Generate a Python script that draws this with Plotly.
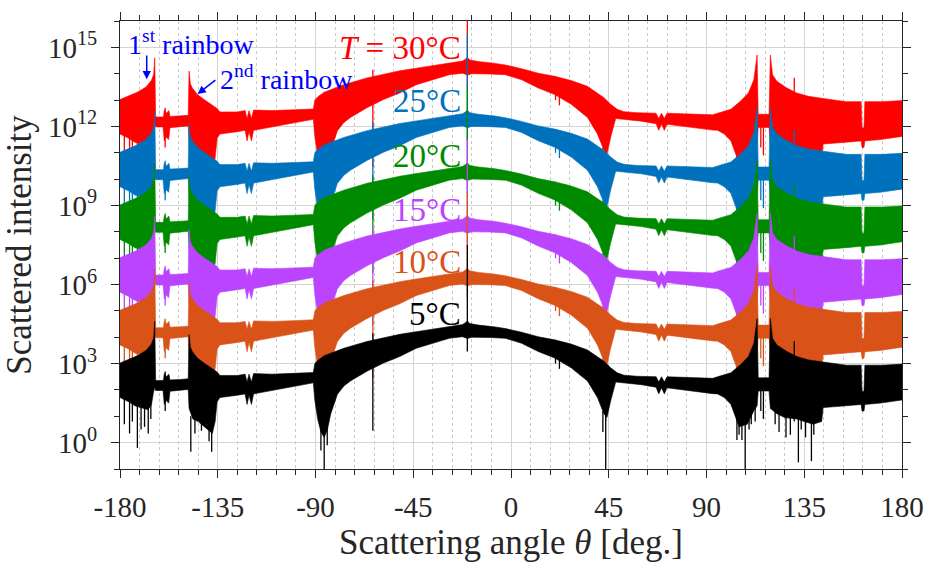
import plotly.graph_objects as go

# ---------------------------------------------------------------------------
# Scattered intensity envelopes of the 5 °C curve (log10 units).
# Every other temperature is drawn shifted upward by two decades per step.
# ---------------------------------------------------------------------------
upper_deg = [-180, -176, -172, -168, -165.5, -164.5, -164.0, -163.6, -160.0, -159.6,
             -158.6, -157.5, -157.0, -152, -148.6, -148.2, -147.6, -146.7, -144.4, -141.3,
             -138.5, -136.8, -135.3, -134.0, -126, -122.4, -121.5, -120.6, -119.5, -118.5,
             -110, -100, -91.0, -90.3, -89, -86, -83, -77, -66.3, -58.7,
             -51.2, -43.6, -36, -28.4, -22.3, -21, -20.1, -19, -15, -8,
             -2.6, 4.9, 12.5, 20.1, 27.7, 35.2, 39.8, 42.8, 45.9, 48.9,
             52, 58, 66.8, 68.0, 69.3, 70.6, 71.8, 80, 92.9, 95.1,
             98, 101.2, 105.7, 109.3, 111.8, 112.8, 113.3, 113.8, 118.8, 119.4,
             120.4, 122.4, 127, 131.5, 137, 143.7, 154.3, 161.2, 161.6, 162.5,
             162.9, 170.9, 180]
upper_log = [3.02, 3.15, 3.30, 3.50, 3.75, 3.98, 4.60, 2.36, 2.36, 2.62,
             2.50, 2.60, 2.38, 2.40, 2.42, 4.10, 3.62, 3.46, 3.21, 3.02,
             2.85, 2.77, 2.68, 2.55, 2.55, 2.60, 2.30, 2.60, 2.30, 2.62,
             2.60, 2.63, 2.66, 3.00, 3.12, 3.30, 3.40, 3.58, 3.84, 3.99,
             4.11, 4.21, 4.31, 4.40, 4.48, 4.55, 4.62, 4.52, 4.46, 4.40,
             4.33, 4.19, 4.02, 3.90, 3.74, 3.52, 3.27, 3.09, 2.84, 2.65,
             2.56, 2.52, 2.50, 2.30, 2.50, 2.30, 2.50, 2.47, 2.44, 2.50,
             2.56, 2.65, 2.96, 3.27, 3.77, 4.30, 4.71, 2.46, 2.46, 4.71,
             3.96, 3.71, 3.46, 3.27, 3.14, 3.06, 2.94, 2.94, 1.95, 1.95,
             2.94, 2.94, 2.98]

lower_deg = [-180, -176, -173.2, -169, -167.1, -165.5, -164.6, -164.0, -163.6, -160.2,
             -159.6, -158.8, -157.6, -157.0, -152, -148.6, -148.2, -146.5, -144, -141,
             -139, -137.5, -136.2, -135.3, -134, -126, -122.4, -121.5, -120.6, -119.5,
             -118.5, -110, -100, -91, -90.3, -89, -87.5, -86, -84.5, -83,
             -79.9, -76.9, -73.9, -66.3, -58.7, -51.2, -43.6, -36, -28.4, -22.3,
             -20.1, -18, -10, -2.6, 4.9, 12.5, 20.1, 27.7, 35.2, 39.8,
             42.8, 44.2, 45.9, 48.2, 50, 60, 66.8, 68.0, 69.3, 70.6,
             71.8, 80, 92.9, 95.1, 98.2, 101.2, 103.5, 105, 108.8, 111.8,
             113.3, 113.8, 118.8, 119.4, 122.4, 126, 131.5, 135, 139.1, 143.0,
             143.7, 154.3, 161.2, 161.6, 162.5, 162.9, 170, 180]
lower_log = [1.71, 1.55, 1.40, 1.30, 1.25, 1.45, 1.90, 2.10, 1.98, 1.98,
             1.45, 1.60, 1.50, 1.95, 2.00, 2.02, 1.30, 0.90, 0.80, 0.60,
             0.45, 0.35, 0.80, 1.55, 1.71, 1.80, 1.85, 1.45, 1.80, 1.45,
             1.85, 2.00, 2.14, 2.27, 1.60, 0.90, 0.40, 0.20, 0.50, 1.09,
             1.84, 2.15, 2.34, 2.71, 3.02, 3.27, 3.58, 3.77, 3.96, 4.02,
             3.95, 4.00, 3.99, 3.96, 3.77, 3.46, 3.21, 2.84, 2.34, 1.71,
             1.09, 0.96, 1.59, 2.30, 2.30, 2.20, 2.10, 1.85, 2.08, 1.85,
             2.08, 1.98, 1.86, 1.85, 1.71, 1.46, 0.96, 0.60, 0.70, 1.21,
             1.40, 1.96, 1.96, 1.30, 1.10, 0.95, 0.90, 0.80, 0.70, 0.80,
             1.33, 1.40, 1.45, 1.20, 1.20, 1.45, 1.50, 1.62]

# Narrow interference spikes: angle, bottom and top (log10 units)
spike_deg = [-178.0, -175.6, -174.3, -172.0, -170.3, -168.7, -167.0, -165.8, -159.2,
             -147.4, -145.5, -142.5, -139.0, -137.8, -87.5, -86.0, -84.6, -63.6,
             -20.1, 20.5, 22.3, 24.8, 42.3, 43.6, 104.0, 105.0, 106.3, 107.8,
             109.6, 110.6, 112.4, 115.0, 116.2, 121.6, 123.4, 126.6, 128.6, 130.4,
             132.3, 133.6, 135.6, 138.3, 139.4, 141.4]
spike_low = [0.70, 0.35, 0.80, -0.20, 0.50, 0.60, 0.35, 0.90, 1.20,
             -0.35, 0.35, 0.45, 0.05, -0.35, -0.30, -1.20, -0.10, 0.45,
             3.46, 3.00, 2.80, 3.00, 0.40, -1.20, 0.10, 0.30, 0.10, -1.20,
             0.50, 0.70, 0.80, 1.20, 0.90, 0.70, 0.40, 0.20, 0.30, 0.80,
             -0.75, 0.50, 0.20, -0.70, 0.30, 0.90]
spike_high = [1.80, 1.60, 1.60, 1.50, 1.40, 1.40, 1.30, 1.50, 2.70,
              1.00, 1.00, 0.90, 0.60, 0.50, 0.60, 0.50, 0.80, 4.15,
              7.50, 3.90, 3.80, 3.80, 1.20, 1.10, 1.00, 1.00, 0.80, 0.80,
              1.00, 1.30, 1.40, 2.00, 2.00, 1.20, 1.20, 1.00, 1.00, 3.85,
              1.00, 1.00, 0.90, 0.90, 0.80, 1.00]

# Temperatures, their vertical shift (decades) and colours; drawn top curve first
temps = ["30", "25", "20", "15", "10", "5"]
shift_dec = [10, 8, 6, 4, 2, 0]
colors = ["#FF0000", "#0072BD", "#008A00", "#BB44FF", "#D95319", "#000000"]
label_y_log = [14.98, 12.95, 10.88, 8.82, 6.87, 4.89]

# Axis ticks
x_ticks = [-180, -135, -90, -45, 0, 45, 90, 135, 180]
x_ticktext = ["-180", "-135", "-90", "-45", "0", "45", "90", "135", "180"]
y_tick_exp = [0, 3, 6, 9, 12, 15]

FONT = "Liberation Serif, Times New Roman, serif"
AXIS_COLOR = "#262626"

fig = go.Figure()

for t, off, col in zip(temps, shift_dec, colors):
    xs = list(upper_deg) + list(reversed(lower_deg))
    ys = [10 ** (v + off) for v in upper_log] + [10 ** (v + off) for v in reversed(lower_log)]
    fig.add_trace(go.Scatter(
        x=xs, y=ys, mode="lines", fill="toself", fillcolor=col,
        line=dict(color=col, width=0.6), hoverinfo="skip", showlegend=False,
        name=f"{t} °C"))
    sx, sy = [], []
    for a, lo, hi in zip(spike_deg, spike_low, spike_high):
        sx += [a, a, None]
        sy += [10 ** (lo + off), 10 ** (hi + off), None]
    fig.add_trace(go.Scatter(
        x=sx, y=sy, mode="lines", line=dict(color=col, width=1.3),
        hoverinfo="skip", showlegend=False))

annotations = []
for i, (t, col, ly) in enumerate(zip(temps, colors, label_y_log)):
    txt = f"<i>T</i> = {t}°C" if i == 0 else f"{t}°C"
    annotations.append(dict(
        x=-22.0, y=ly, xref="x", yref="y", text=txt, showarrow=False,
        xanchor="right", yanchor="middle",
        font=dict(family=FONT, size=33, color=col)))

# Rainbow labels and arrows
annotations += [
    dict(x=-177.4, y=15.2, xref="x", yref="y", text="1<sup>st</sup> rainbow",
         showarrow=False, xanchor="left", yanchor="middle",
         font=dict(family=FONT, size=28, color="#0000FF")),
    dict(x=-135.0, y=13.85, xref="x", yref="y", text="2<sup>nd</sup> rainbow",
         showarrow=False, xanchor="left", yanchor="middle",
         font=dict(family=FONT, size=28, color="#0000FF")),
    dict(x=-167.7, y=13.79, ax=-167.7, ay=14.75, xref="x", yref="y",
         axref="x", ayref="y", text="", showarrow=True, arrowhead=2,
         arrowsize=1.1, arrowwidth=1.5, arrowcolor="#0000FF"),
    dict(x=-144.3, y=13.23, ax=-135.4, ay=13.8, xref="x", yref="y",
         axref="x", ayref="y", text="", showarrow=True, arrowhead=2,
         arrowsize=1.1, arrowwidth=1.5, arrowcolor="#0000FF"),
]

minor_y = [10 ** k for k in range(-1, 17) if k not in y_tick_exp]

fig.update_layout(
    width=936, height=563,
    margin=dict(l=120, r=24, t=15, b=94),
    paper_bgcolor="white", plot_bgcolor="white",
    font=dict(family=FONT, color=AXIS_COLOR),
    annotations=annotations,
    xaxis=dict(
        range=[-180, 180], tickmode="array", tickvals=x_ticks, ticktext=x_ticktext,
        ticks="outside", ticklen=8, tickwidth=1, tickcolor=AXIS_COLOR,
        showline=True, linecolor=AXIS_COLOR, linewidth=1, mirror="ticks",
        showgrid=True, gridcolor="#D4D4D4", gridwidth=1, zeroline=False,
        tickfont=dict(family=FONT, size=29, color=AXIS_COLOR),
        ticklabelstandoff=4,
        minor=dict(dtick=9, tick0=0, ticks="outside", ticklen=5, tickcolor=AXIS_COLOR,
                   showgrid=True, gridcolor="#C8C8C8", griddash="dot", gridwidth=1),
        title=dict(text="Scattering angle <i>θ</i> [deg.]",
                   font=dict(family=FONT, size=35, color=AXIS_COLOR), standoff=4),
    ),
    yaxis=dict(
        type="log", range=[-1, 16], tickmode="array",
        tickvals=[10 ** k for k in y_tick_exp],
        ticktext=[f"10<sup>{k}</sup>" for k in y_tick_exp],
        ticks="outside", ticklen=8, tickwidth=1, tickcolor=AXIS_COLOR,
        showline=True, linecolor=AXIS_COLOR, linewidth=1, mirror="ticks",
        showgrid=True, gridcolor="#D4D4D4", gridwidth=1, zeroline=False,
        tickfont=dict(family=FONT, size=29, color=AXIS_COLOR),
        ticklabelstandoff=8,
        minor=dict(tickmode="array", tickvals=minor_y, ticks="outside", ticklen=5,
                   tickcolor=AXIS_COLOR, showgrid=False),
        title=dict(text="Scattered intensity",
                   font=dict(family=FONT, size=35, color=AXIS_COLOR), standoff=6),
    ),
)

fig.write_html("out.html")
